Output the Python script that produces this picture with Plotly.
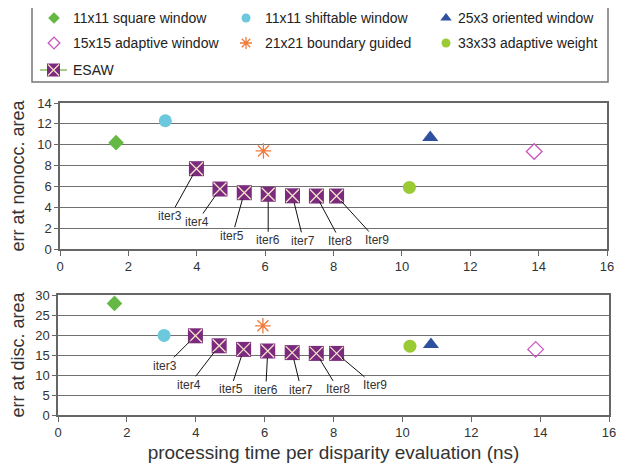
import plotly.graph_objects as go

# The page body has an 8px margin, so the figure is drawn 8px right/down.
PAGE_W, PAGE_H = 624, 464
OFF = 8
W, H = PAGE_W - OFF, PAGE_H - OFF

# ---- data ----
methods = ["11x11 square window", "11x11 shiftable window", "25x3 oriented window",
           "15x15 adaptive window", "21x21 boundary guided", "33x33 adaptive weight"]
method_time = [1.64, 3.08, 10.83, 13.87, 5.95, 10.22]
method_err_nonocc = [10.2, 12.3, 10.7, 9.35, 9.4, 5.9]
method_err_disc = [27.9, 19.9, 17.6, 16.4, 22.3, 17.2]

esaw_labels = ["iter3", "iter4", "iter5", "iter6", "iter7", "Iter8", "Iter9"]
esaw_time = [3.99, 4.68, 5.39, 6.09, 6.80, 7.50, 8.09]
esaw_err_nonocc = [7.7, 5.75, 5.4, 5.25, 5.1, 5.08, 5.08]
esaw_err_disc = [19.8, 17.3, 16.4, 16.0, 15.6, 15.4, 15.4]

x_ticks = [0, 2, 4, 6, 8, 10, 12, 14, 16]
y1_ticks = [0, 2, 4, 6, 8, 10, 12, 14]
y2_ticks = [0, 5, 10, 15, 20, 25, 30]


def px_x(p):
    return (p - OFF) / W


def px_y(p):
    return (H - (p - OFF)) / H


# ---- styles ----
styles = [
    dict(symbol="diamond", color="#66b844", size=12, lsize=9, line=dict(width=0)),
    dict(symbol="circle", color="#6cc8dc", size=13, lsize=9, line=dict(width=0)),
    dict(symbol="triangle-up", color="#2f4f9f", size=14, lsize=10, line=dict(width=0)),
    dict(symbol="diamond-open", color="#cc55bb", size=12, lsize=9, line=dict(width=1.3, color="#cc55bb")),
    dict(symbol="asterisk-open", color="#f07a3a", size=13, lsize=10, line=dict(width=1.3, color="#f07a3a")),
    dict(symbol="circle", color="#9acb34", size=13, lsize=9, line=dict(width=0)),
]
PURPLE = "#7b2a7e"
CREAM = "#f3e3c8"
FONT = "Liberation Sans, Arial, sans-serif"

# legend layout (page pixel positions: marker x, text x, row y) per method
leg_pos = [(54, 71, 18), (246, 263, 18), (446, 456, 18),
           (54, 71, 43), (246, 263, 43), (446, 456, 43)]

# offsets (px) of labels relative to markers
off_top = [(-26, 47), (-23, 33), (-12, 43), (0, 46), (11, 45), (24, 45), (40, 44)]
off_bot = [(-30, 30), (-30, 39), (-13, 40), (-2, 39), (9, 37), (22, 36), (38, 32)]

fig = go.Figure()

for i, name in enumerate(methods):
    st = styles[i]
    mk = dict(symbol=st["symbol"], color=st["color"], size=st["size"], line=st["line"])
    fig.add_trace(go.Scatter(x=[method_time[i]], y=[method_err_nonocc[i]], mode="markers",
                             name=name, marker=mk, xaxis="x", yaxis="y"))
    fig.add_trace(go.Scatter(x=[method_time[i]], y=[method_err_disc[i]], mode="markers",
                             name=name, marker=mk, xaxis="x2", yaxis="y2"))

for xa, ya, yv in [("x", "y", esaw_err_nonocc), ("x2", "y2", esaw_err_disc)]:
    fig.add_trace(go.Scatter(x=esaw_time, y=yv, mode="markers", name="ESAW",
                             marker=dict(symbol="square", size=15, color=PURPLE, line=dict(width=0)),
                             xaxis=xa, yaxis=ya))
    fig.add_trace(go.Scatter(x=esaw_time, y=yv, mode="markers", name="ESAW",
                             marker=dict(symbol="x-thin-open", size=13, color=CREAM,
                                         line=dict(width=1.3, color=CREAM)),
                             xaxis=xa, yaxis=ya))

# ---- manual legend (page-pixel overlay axes) ----
for i, name in enumerate(methods):
    st = styles[i]
    mx, tx, ry = leg_pos[i]
    fig.add_trace(go.Scatter(x=[mx], y=[ry], mode="markers", xaxis="x3", yaxis="y3",
                             marker=dict(symbol=st["symbol"], color=st["color"], size=st["lsize"],
                                         line=st["line"]), hoverinfo="skip"))
fig.add_trace(go.Scatter(x=[40, 67], y=[70, 70], mode="lines", xaxis="x3", yaxis="y3",
                         line=dict(color="#8cc063", width=1.5), hoverinfo="skip"))
fig.add_trace(go.Scatter(x=[53.5], y=[70], mode="markers", xaxis="x3", yaxis="y3",
                         marker=dict(symbol="square", size=13, color=PURPLE, line=dict(width=0)),
                         hoverinfo="skip"))
fig.add_trace(go.Scatter(x=[53.5], y=[70], mode="markers", xaxis="x3", yaxis="y3",
                         marker=dict(symbol="x-thin-open", size=11, color=CREAM,
                                     line=dict(width=1.2, color=CREAM)), hoverinfo="skip"))

annotations = []
for i, name in enumerate(methods):
    mx, tx, ry = leg_pos[i]
    annotations.append(dict(x=tx, y=ry, xref="x3", yref="y3", text=name, showarrow=False,
                            xanchor="left", yanchor="middle",
                            font=dict(size=14, color="#222", family=FONT)))
annotations.append(dict(x=71, y=70, xref="x3", yref="y3", text="ESAW", showarrow=False,
                        xanchor="left", yanchor="middle", font=dict(size=14, color="#222", family=FONT)))

for i, lab in enumerate(esaw_labels):
    for xr, yr, yv, off in [("x", "y", esaw_err_nonocc, off_top), ("x2", "y2", esaw_err_disc, off_bot)]:
        annotations.append(dict(x=esaw_time[i], y=yv[i], xref=xr, yref=yr, text=lab,
                                showarrow=True, arrowhead=0, arrowwidth=1, arrowcolor="#111",
                                ax=off[i][0], ay=off[i][1], standoff=7,
                                font=dict(size=12, color="#333", family=FONT)))

shapes = [dict(type="rect", xref="x3", yref="y3", x0=32, x1=608, y0=5, y1=82,
               line=dict(color="#777", width=1.5), fillcolor="rgba(0,0,0,0)", layer="below")]

axis_common = dict(range=[0, 16], tickvals=x_ticks, showgrid=False, zeroline=False,
                   showline=True, linecolor="#666", linewidth=1.5, mirror=True,
                   ticks="outside", ticklen=5, tickcolor="#666", automargin=False,
                   ticklabeloverflow="allow",
                   tickfont=dict(size=13, color="#333"))
yaxis_common = dict(showgrid=True, gridcolor="#707070", gridwidth=1, zeroline=False,
                    showline=True, linecolor="#666", linewidth=1.5, mirror=True,
                    ticks="outside", ticklen=4, tickcolor="#666", automargin=False,
                    tickfont=dict(size=13, color="#333"))

fig.update_layout(
    width=W, height=H, margin=dict(l=0, r=0, t=0, b=0, autoexpand=False),
    paper_bgcolor="white", plot_bgcolor="rgba(0,0,0,0)",
    font=dict(family=FONT, color="#333"),
    showlegend=False,
    xaxis=dict(domain=[px_x(60), px_x(607)], anchor="y", **axis_common),
    yaxis=dict(domain=[px_y(249), px_y(103)], anchor="x", range=[0, 14],
               tickvals=y1_ticks,
               title=dict(text="err at nonocc. area", font=dict(size=18, color="#333"), standoff=8),
               **yaxis_common),
    xaxis2=dict(domain=[px_x(58), px_x(609)], anchor="y2",
                title=dict(text="processing time per disparity evaluation (ns)",
                           font=dict(size=19, color="#333"), standoff=6),
                **axis_common),
    yaxis2=dict(domain=[px_y(415), px_y(295)], anchor="x2", range=[0, 30],
                tickvals=y2_ticks,
                title=dict(text="err at disc. area", font=dict(size=18, color="#333"), standoff=8),
                **yaxis_common),
    xaxis3=dict(domain=[0, 1], range=[OFF, OFF + W], visible=False, anchor="y3", fixedrange=True),
    yaxis3=dict(domain=[0, 1], range=[OFF + H, OFF], visible=False, anchor="x3", fixedrange=True),
    annotations=annotations,
    shapes=shapes,
)

fig.write_html("out.html")
